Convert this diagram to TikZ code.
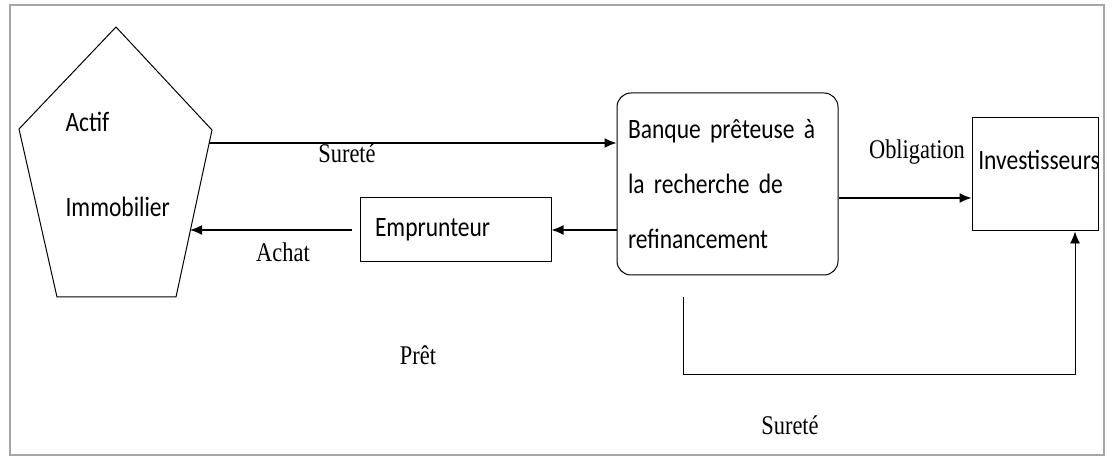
\documentclass[tikz,border=0pt]{standalone}
\usepackage{fontspec}
\setmainfont{Carlito}[FakeStretch=0.84]
\newfontfamily\lblfont{Liberation Serif}[FakeStretch=0.83]
\newcommand\serre{\fontdimen2\font=0.14em\relax}
\usetikzlibrary{arrows.meta,positioning}

\begin{document}
\begin{tikzpicture}[x=1pt, y=-1pt, >={Latex[length=12pt,width=10pt]},
  every node/.style={font=\fontsize{28}{32}\selectfont\serre},
  box/.style={draw, line width=1pt, inner sep=0pt},
  flux/.style={->, line width=1.5pt},
  lbl/.style={font=\lblfont\fontsize{27}{30}\selectfont}]
\useasboundingbox (0,0) rectangle (1117,462);
% cadre
\draw[gray!70, line width=2pt] (10,5) rectangle (1104,455);

% Actif immobilier
\draw[line width=1pt] (116,27) -- (212,130) -- (176,297) -- (57,297) -- (19,129) -- cycle;
\node[anchor=west] (actif) at (62,122) {Actif};
\node[anchor=west] (immo) at (62,207) {Immobilier};
\coordinate (actifA) at (209,143);
\coordinate (actifB) at (190,230);

% Banque
\node[box, rounded corners=14pt, minimum height=182pt, text width=199pt, inner xsep=11pt, align=left, font=\fontsize{28}{55}\selectfont\serre] (bank) at (727.5,184) {Banque prêteuse à\\la recherche de\\refinancement};

% Emprunteur
\node[box, minimum height=64pt, text width=161pt, inner xsep=15pt, align=left] (emp) at (455.5,230) {Emprunteur};

% Investisseurs
\node[box, minimum width=126pt, minimum height=113pt] (inv) at (1035,174.5) {};
\node (invtxt) at (1039,160) {Investisseurs};

% flux
\draw[flux] (actifA) -- (actifA -| bank.west);
\draw[flux] (bank.west |- emp.east) -- (emp.east);
\draw[flux] ([xshift=-8pt]emp.west) -- (actifB);
\coordinate (oblA) at ([yshift=-14pt]bank.east);
\draw[flux] (oblA) -- (oblA -| inv.west);
\coordinate (loopA) at (683,297);
\coordinate (loopB) at (1075,374);
\draw[->, line width=0.9pt] (loopA) |- (loopB) -- (loopB |- inv.south);

% etiquettes
\node[lbl] (surete1) at (347,153) {Sureté};
\node[lbl] (achat) at (283,252) {Achat};
\node[lbl] (oblig) at (917,152) {Obligation};
\node[lbl] (pret) at (418,355) {Prêt};
\node[lbl] (surete2) at (790,425) {Sureté};
\end{tikzpicture}
\end{document}
